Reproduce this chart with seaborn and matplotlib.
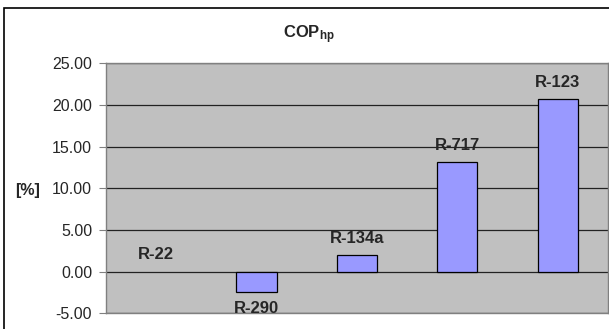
import matplotlib
matplotlib.use("Agg")
import matplotlib.pyplot as plt
import seaborn as sns
import pandas as pd
from matplotlib.patches import Rectangle

# Donnees
refrigerants = ["R-22", "R-290", "R-134a", "R-717", "R-123"]
cop_change = [0.0, -2.45, 2.0, 13.1, 20.7]
y_ticks = [-5, 0, 5, 10, 15, 20, 25]

sns.set_style("white")
plt.rcParams["font.family"] = ["Liberation Sans", "DejaVu Sans"]
plt.rcParams["mathtext.fontset"] = "custom"
plt.rcParams["mathtext.bf"] = "Liberation Sans:bold"
plt.rcParams["mathtext.rm"] = "Liberation Sans"

df = pd.DataFrame({"ref": refrigerants, "cop": cop_change})

fig = plt.figure(figsize=(6.09, 3.29), dpi=100)
ax = fig.add_axes([0.174, 0.0477, 0.824, 0.76])
ax.set_facecolor("#C0C0C0")

sns.barplot(data=df, x="ref", y="cop", ax=ax, color="#9999FF", width=0.4,
            saturation=1, edgecolor="black", linewidth=0.9, zorder=3)
# pas de trait pour une barre nulle
for p in ax.patches:
    if p.get_height() == 0:
        p.set_linewidth(0)

ax.set_ylim(-5, 25)
ax.set_yticks(y_ticks)
ax.set_yticklabels([f"{t:.2f}" for t in y_ticks], fontsize=11.5)
ax.yaxis.grid(True, color="#222222", linewidth=0.9, zorder=1)
ax.set_axisbelow(True)
ax.tick_params(axis="y", length=5, width=0.8, color="#808080", pad=5, direction="out", left=True)
ax.tick_params(axis="x", length=0, labelbottom=False)
ax.set_xlabel("")
ax.set_ylabel("")
for sp in ax.spines.values():
    sp.set_visible(True)
    sp.set_color("#808080")
    sp.set_linewidth(1)

# etiquettes au-dessus / en dessous des barres
for i, (name, val) in enumerate(zip(refrigerants, cop_change)):
    off = -12 if val < 0 else 12
    ax.annotate(name, xy=(i, val), xytext=(0, off), textcoords="offset points",
                ha="center", va="center", fontsize=12, fontweight="bold", zorder=5)

fig.text(0.507, 0.895, r"$\mathbf{COP_{hp}}$", ha="center", va="center", fontsize=12)
fig.text(0.045, 0.422, "[%]", ha="center", va="center", fontsize=11.5, fontweight="bold")

# cadre exterieur
fig.patches.append(Rectangle((4 / 609, -0.1), 1.2, 1 - 8 / 329 + 0.1, transform=fig.transFigure,
                             fill=False, edgecolor="black", linewidth=1.2))

fig.savefig("out.png", dpi=100)
